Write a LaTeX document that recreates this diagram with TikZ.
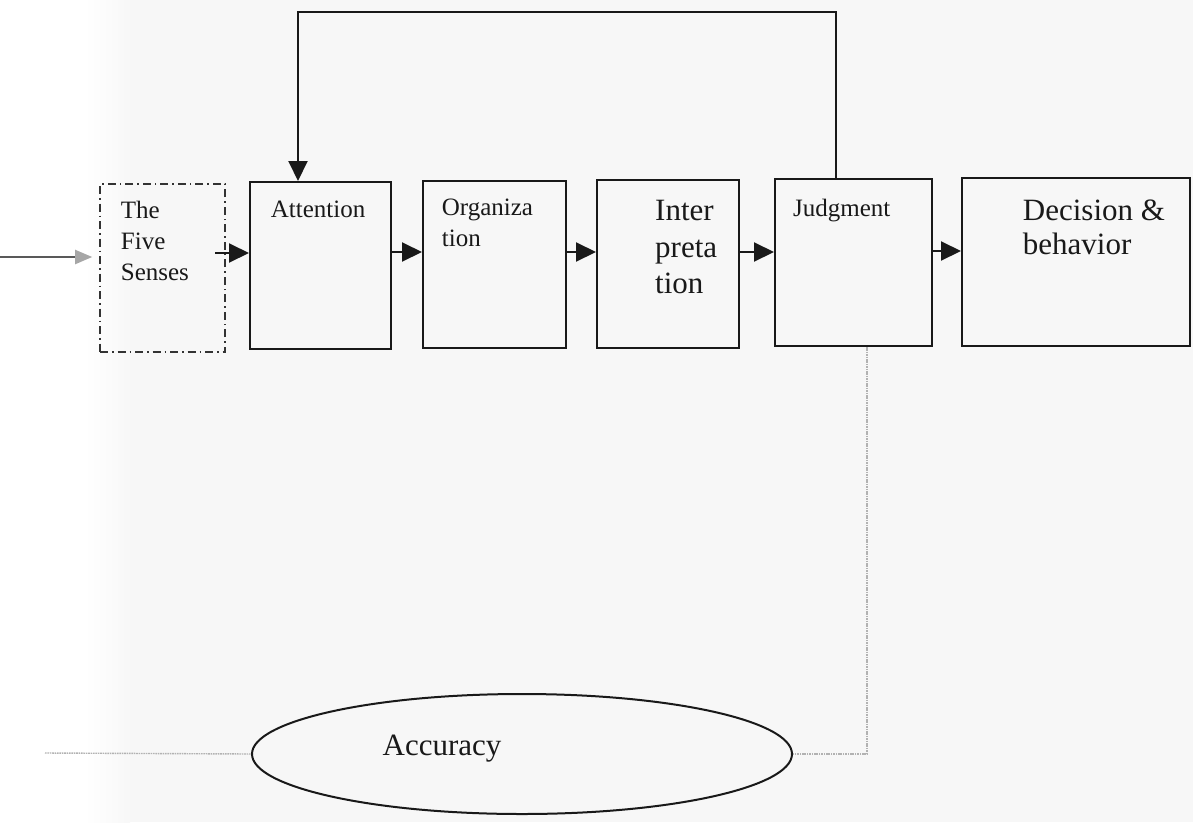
\documentclass[tikz,border=0pt]{standalone}
\usepackage{fontspec}
\setmainfont{Liberation Serif}
\usetikzlibrary{arrows.meta,shapes.geometric}
\begin{document}
\begin{tikzpicture}[x=1pt,y=-1pt,
  box/.style={draw=black!90, line width=2pt, rectangle, inner sep=0pt},
  conn/.style={draw=black!90, line width=2pt},
  tip/.style={-{Triangle[length=20pt,width=19pt]}},
  grayline/.style={draw=gray!60, line width=1.4pt, dash pattern=on 1.6pt off 0.8pt},
  smalltxt/.style={font=\fontsize{25}{31}\selectfont, inner sep=0pt, anchor=north west, align=left, text=black!90},
  bigtxt/.style={font=\fontsize{31}{35}\selectfont, inner sep=0pt, anchor=north west, align=left, text=black!90},
]
\useasboundingbox (0,0) rectangle (1193,822);
% scanned paper background
\fill[white] (0,0) rectangle (1193,822);
\fill[gray!6] (130,0) rectangle (1193,822);
\shade[left color=white, right color=gray!6, shading angle=90] (85,0) rectangle (130,822);

% boxes
\node[box, draw=black!80, line width=1.6pt, dash pattern=on 8pt off 4pt on 1.5pt off 4pt,
      minimum width=125pt, minimum height=168pt] (senses) at (162.5,268) {};
\node[box, minimum width=141pt, minimum height=167pt] (attn) at (320.5,265.5) {};
\node[box, minimum width=143pt, minimum height=167pt] (org) at (494.5,264.5) {};
\node[box, minimum width=142pt, minimum height=168pt] (interp) at (668,264) {};
\node[box, minimum width=157pt, minimum height=167pt] (judg) at (853.5,262.5) {};
\node[box, minimum width=228pt, minimum height=168pt] (dec) at (1076,262) {};
\node[draw=black!90, line width=2pt, ellipse, inner sep=0pt,
      minimum width=540pt, minimum height=120pt] (acc) at (522,754) {};

% texts
\node[smalltxt] (tsenses) at (120.7,201) {The\\Five\\Senses};
\node[smalltxt] (tattn) at (270.7,201) {Attention};
\node[smalltxt] (torg) at (441.7,199) {Organiza\\tion};
\node[bigtxt, font=\fontsize{31}{36.5}\selectfont] (tinterp) at (655,200) {Inter\\preta\\tion};
\node[smalltxt] (tjudg) at (793,199) {Judgment};
\node[bigtxt, font=\fontsize{31}{34}\selectfont] (tdec) at (1022.7,200) {Decision \&\\behavior};
\node[font=\fontsize{31}{35}\selectfont, inner sep=0pt, text=black!90] (tacc) at (442,749) {Accuracy};

% connector rows
\coordinate (inA) at (0,257);
\coordinate (s1) at (215,253);
\coordinate (row) at (0,252);
\coordinate (row2) at (0,251);
\coordinate (fbtop) at (567,12);
\coordinate (accin) at (45,753);

% arrows
\draw[draw=black!65, line width=2pt, -{Triangle[length=17pt,width=14pt,color=gray!70,fill=gray!70]}] (inA) -- ([xshift=-7pt]senses.west |- inA);
\draw[conn,tip] (s1) -- (attn.west |- s1);
\draw[conn,tip] (attn.east |- row) -- (org.west |- row);
\draw[conn,tip] (org.east |- row) -- (interp.west |- row);
\draw[conn,tip] (interp.east |- row) -- (judg.west |- row);
\draw[conn,tip] (judg.east |- row2) -- (dec.west |- row2);

% feedback loop
\draw[conn,tip] ([xshift=-17.5pt]judg.north) |- (fbtop) -| ([xshift=-22.5pt]attn.north);

% accuracy links
\draw[grayline] ([xshift=13.5pt]judg.south) |- (acc.east);
\draw[grayline] (accin) -- (acc.west);
\end{tikzpicture}
\end{document}
